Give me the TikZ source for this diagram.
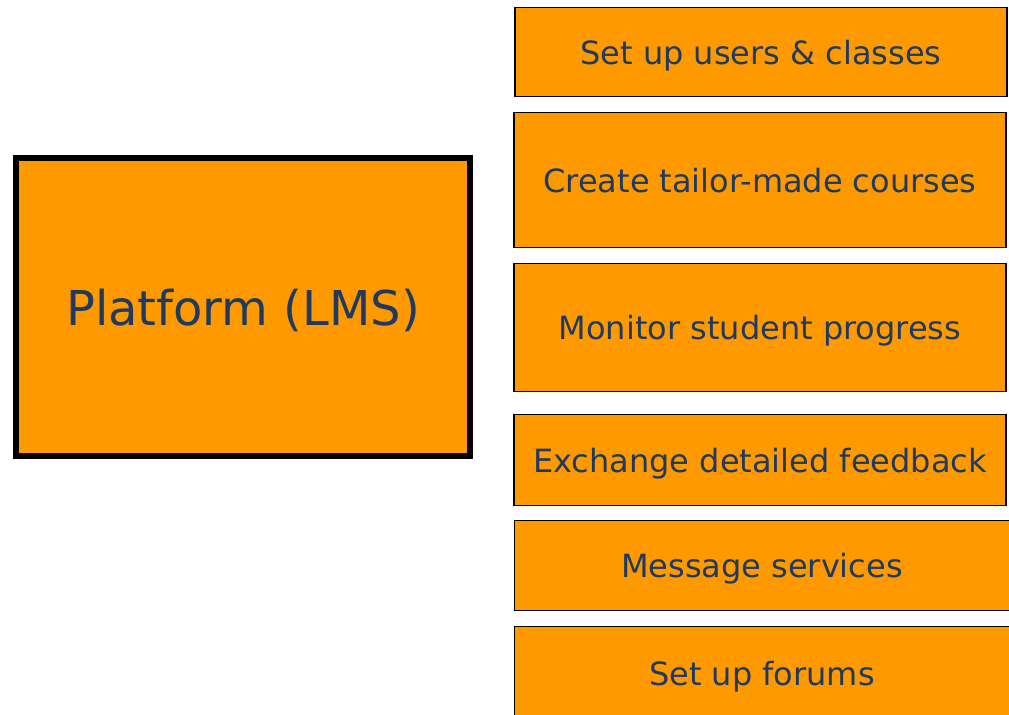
\documentclass[tikz,border=0pt]{standalone}
\usepackage{fontspec}
\setmainfont{DejaVu Sans}
\definecolor{lmsorange}{HTML}{FE9900}
\definecolor{lmsnavy}{HTML}{1F3A5E}

\begin{document}
\begin{tikzpicture}[x=0.5pt,y=-0.5pt,
    task/.style={draw=black, line width=0.75pt, fill=lmsorange, text=lmsnavy,
        minimum width=246pt, inner sep=0pt, text depth=0pt, font=\fontsize{16}{19}\selectfont},
    platformbox/.style={draw=black, line width=2.75pt, fill=lmsorange, text=lmsnavy,
        minimum width=227pt, minimum height=149pt, text depth=0pt, font=\fontsize{24}{28}\selectfont}]

    \useasboundingbox (0,0) rectangle (1009,715);
    \clip (0,0) rectangle (1009,715);

    \node[platformbox] (platform) at (243,307) {Platform (LMS)};

    \node[task, minimum height=44.5pt] (users) at (761,52) {Set up users \& classes};
    \node[task, minimum height=67.5pt] (courses) at (760,180) {Create tailor-made courses};
    \node[task, minimum height=64pt] (progress) at (760,327.5) {Monitor student progress};
    \node[task, minimum height=45.5pt] (feedback) at (760,460) {Exchange detailed feedback};
    \node[task, minimum height=45pt, minimum width=247.5pt] (messages) at (762,565.5) {Message services};
    \node[task, minimum height=46.5pt, minimum width=247.5pt] (forums) at (762,673) {Set up forums};

\end{tikzpicture}
\end{document}
